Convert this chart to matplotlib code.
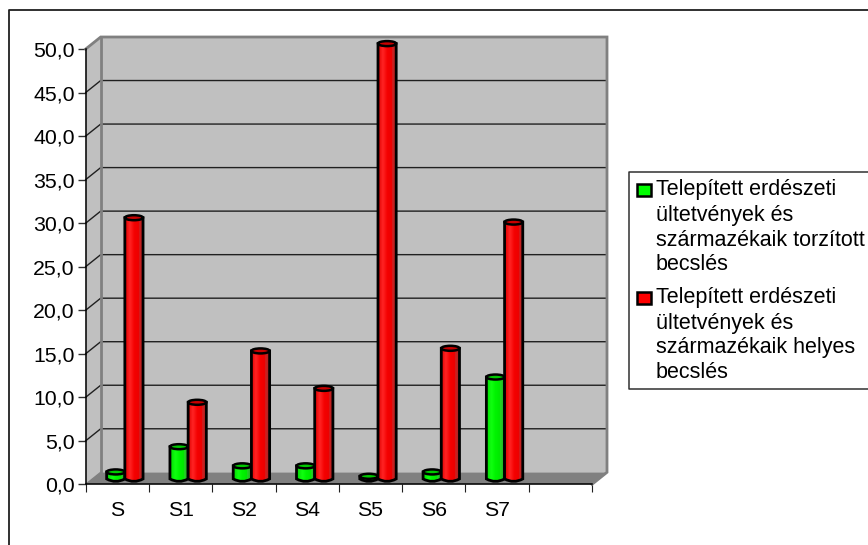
import numpy as np
import matplotlib
matplotlib.use('Agg')
import matplotlib.pyplot as plt
from matplotlib.colors import LinearSegmentedColormap
from matplotlib.lines import Line2D
from matplotlib.patches import Ellipse, PathPatch, Polygon, Rectangle
from matplotlib.path import Path

plt.rcParams['font.family'] = ['Liberation Sans', 'DejaVu Sans']

categories = ['S', 'S1', 'S2', 'S4', 'S5', 'S6', 'S7', '']
torzitott = [0.8, 3.7, 1.5, 1.5, 0.3, 0.8, 11.7]
helyes = [30.0, 8.8, 14.7, 10.4, 50.0, 15.0, 29.5]
y_ticks = [0, 5, 10, 15, 20, 25, 30, 35, 40, 45, 50]
legend_torzitott = ['Telepített erdészeti', 'ültetvények és', 'származékaik torzított', 'becslés']
legend_helyes = ['Telepített erdészeti', 'ültetvények és', 'származékaik helyes', 'becslés']

W, H = 868, 545
# plot box in pixels, measured from the top left corner
LEFT, RIGHT, TOP, BOTTOM = 85.7, 592.0, 49.0, 484.3
DEPTH_X, DEPTH_Y = 15.0, 12.0

green_cm = LinearSegmentedColormap.from_list('g', [(0, '#00d800'), (0.28, '#10ff10'), (0.5, '#00f400'),
                                                   (0.74, '#00e800'), (0.76, '#28d028'), (1, '#20a820')])
red_cm = LinearSegmentedColormap.from_list('r', [(0, '#e00000'), (0.25, '#ff2424'), (0.5, '#f40000'),
                                                 (0.74, '#ec0000'), (0.76, '#d02020'), (1, '#a82020')])


def fx(px):
    return px / W


def fy(px):
    return 1 - px / H


fig = plt.figure(figsize=(W / 100, H / 100), dpi=100, facecolor='white')
ax = fig.add_axes([fx(LEFT), fy(BOTTOM), fx(RIGHT - LEFT), (BOTTOM - TOP) / H])
ax.patch.set_visible(False)

px_x = (RIGHT - LEFT) / 8
px_y = (BOTTOM - TOP) / 50
dx = DEPTH_X / px_x
dy = DEPTH_Y / px_y


def flat(points, color, z):
    ax.add_patch(Polygon(points, closed=True, facecolor=color, edgecolor='none', clip_on=False, zorder=z))


# side wall, back wall and floor
flat([(0, 0), (dx, dy), (dx, 50 + dy), (0, 50)], '#c0c0c0', 1)
flat([(dx, dy), (8 + dx, dy), (8 + dx, 50 + dy), (dx, 50 + dy)], '#c0c0c0', 1)
flat([(0, 0), (8, 0), (8 + dx, dy), (dx, dy)], '#808080', 1)

for t in y_ticks[1:-1]:
    ax.plot([0, dx, 8 + dx], [t, t + dy, t + dy], color='#202020', lw=1.0, clip_on=False, zorder=2)
ax.plot([0, dx, 8 + dx, 8 + dx, 8], [50, 50 + dy, 50 + dy, dy, 0], color='#808080', lw=2,
        clip_on=False, zorder=2, solid_joinstyle='miter')
ax.plot([dx, dx], [dy, 50 + dy], color='#808080', lw=2, clip_on=False, zorder=2)
ax.plot([0, dx], [0, dy], color='#808080', lw=1, clip_on=False, zorder=2)


def cylinder(x0, value, width, cmap, top_color, z):
    # the cylinders stand half way into the floor
    base = 0.45 * dy
    top = base + value
    eh = 2.5 / px_y
    x1 = x0 + width
    verts = [(x0, top), (x0, base), (x0 + width / 2, base - 2 * eh), (x1, base), (x1, top), (x0, top)]
    codes = [Path.MOVETO, Path.LINETO, Path.CURVE3, Path.CURVE3, Path.LINETO, Path.CLOSEPOLY]
    outline = PathPatch(Path(verts, codes), facecolor='none', edgecolor='black', lw=2.0,
                        clip_on=False, zorder=z + 0.2)
    ax.add_patch(outline)
    shade = np.linspace(0, 1, 64).reshape(1, -1)
    im = ax.imshow(shade, cmap=cmap, extent=(x0, x1, base - eh * 2, top), aspect='auto', zorder=z + 0.1)
    im.set_clip_box(fig.bbox)
    im.set_clip_path(outline)
    ax.add_patch(Ellipse((x0 + width / 2, top), width, 2 * eh, facecolor=top_color, edgecolor='black',
                         lw=1.8, clip_on=False, zorder=z + 0.3))


bar_w = 18.2 / px_x
shift = 7.5 / px_x
for i, (a, b) in enumerate(zip(torzitott, helyes)):
    mid = i + 0.5 + shift
    cylinder(mid - bar_w, a, bar_w, green_cm, '#00c800', 3 + i)
    cylinder(mid, b, bar_w, red_cm, '#c80000', 3.5 + i)

ax.set_xlim(0, 8)
ax.set_ylim(0, 50)
for side in ['top', 'right']:
    ax.spines[side].set_visible(False)
for side in ['left', 'bottom']:
    ax.spines[side].set_color('black')
    ax.spines[side].set_linewidth(1.1)
    ax.spines[side].set_zorder(2.5)
ax.set_yticks(y_ticks)
ax.set_yticklabels([('%.1f' % t).replace('.', ',') for t in y_ticks])
ax.set_xticks(np.arange(len(categories)) + 0.5)
ax.set_xticklabels(categories)
ax.set_xticks(np.arange(len(categories) + 1), minor=True)
ax.tick_params(axis='x', which='major', length=0, pad=12, labelsize=15.3)
ax.tick_params(axis='x', which='minor', length=5.8, width=0.8, color='#202020')
ax.tick_params(axis='y', length=5.5, width=1.0, pad=2.5, labelsize=15.3, color='#303030')

# outer frame, only its top and left edges fall inside the image
fig.add_artist(Line2D([fx(8.5), fx(8.5), 1], [0, fy(9.5), fy(9.5)], color='#202020', lw=1.3))

# legend box, open on the right hand side
fig.add_artist(Line2D([1, fx(629), fx(629), 1], [fy(172), fy(172), fy(388.5), fy(388.5)],
                      color='#303030', lw=1.1))


def legend_entry(lines, first_y, color):
    fig.add_artist(Rectangle((fx(637), fy(first_y + 6)), 14 / W, 12.5 / H, transform=fig.transFigure,
                             facecolor=color, edgecolor='black', lw=1.8))
    for k, line in enumerate(lines):
        fig.text(fx(656), fy(first_y + k * 25), line, fontsize=15.5, va='center', ha='left', color='black')


legend_entry(legend_torzitott, 190, '#00ff00')
legend_entry(legend_helyes, 298, '#ff0000')

fig.savefig('out.png', dpi=100)
